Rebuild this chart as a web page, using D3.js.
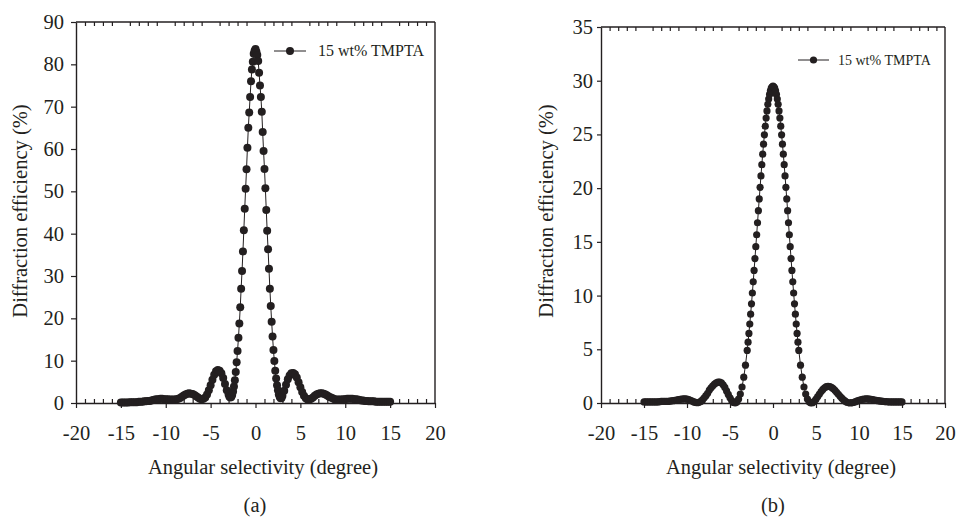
<!DOCTYPE html>
<html>
<head>
<meta charset="utf-8">
<script src="https://cdn.jsdelivr.net/npm/d3@7"></script>
<style>
  html, body { margin: 0; padding: 0; background: #ffffff; }
  svg { display: block; }
  text { font-family: "Liberation Serif", "Times New Roman", serif; fill: #231f20; }
</style>
</head>
<body>
<svg id="chart" width="956" height="517"></svg>
<script>
// ---------------- DATA ----------------
const xTickValues = [-20, -15, -10, -5, 0, 5, 10, 15, 20];
const xMinorValues = [-19,-18,-17,-16,-14,-13,-12,-11,-9,-8,-7,-6,-4,-3,-2,-1,1,2,3,4,6,7,8,9,11,12,13,14,16,17,18,19];
const yTickValuesA = [0, 10, 20, 30, 40, 50, 60, 70, 80, 90];
const yTickValuesB = [0, 5, 10, 15, 20, 25, 30, 35];
const seriesName = "15 wt% TMPTA";
const panelLabels = ["(a)", "(b)"];
const xTitle = "Angular selectivity (degree)";
const yTitle = "Diffraction efficiency (%)";

// angular offsets (degree)
const angles = [
  -15,-14.8,-14.6,-14.4,-14.2,-14,-13.8,-13.6,-13.4,-13.2,-13,-12.8,-12.6,-12.4,-12.2,-12,-11.8,-11.6,-11.4,-11.2,
  -11,-10.8,-10.6,-10.4,-10.2,-10,-9.8,-9.6,-9.4,-9.2,-9,-8.8,-8.6,-8.4,-8.2,-8,-7.8,-7.6,-7.4,-7.2,
  -7,-6.8,-6.6,-6.4,-6.2,-6,-5.8,-5.6,-5.4,-5.2,-5,-4.8,-4.6,-4.4,-4.2,-4,-3.8,-3.6,-3.4,-3.2,
  -3,-2.9,-2.8,-2.7,-2.6,-2.5,-2.4,-2.3,-2.2,-2.1,-2,-1.9,-1.8,-1.7,-1.6,-1.5,-1.4,-1.3,-1.2,-1.1,
  -1,-0.9,-0.8,-0.7,-0.6,-0.5,-0.4,-0.3,-0.2,-0.1,0,0.1,0.2,0.3,0.4,0.5,0.6,0.7,0.8,0.9,
  1,1.1,1.2,1.3,1.4,1.5,1.6,1.7,1.8,1.9,2,2.1,2.2,2.3,2.4,2.5,2.6,2.7,2.8,2.9,3,
  3.2,3.4,3.6,3.8,4,4.2,4.4,4.6,4.8,5,5.2,5.4,5.6,5.8,6,6.2,6.4,6.6,6.8,7,
  7.2,7.4,7.6,7.8,8,8.2,8.4,8.6,8.8,9,9.2,9.4,9.6,9.8,10,10.2,10.4,10.6,10.8,11,
  11.2,11.4,11.6,11.8,12,12.2,12.4,12.6,12.8,13,13.2,13.4,13.6,13.8,14,14.2,14.4,14.6,14.8,15
];

// panel (a) diffraction efficiency (%)
const efficiencyA = [
  0.1,0.1,0.1,0.1,0.1,0.2,0.2,0.2,0.2,0.2,0.3,0.3,0.3,0.4,0.4,0.5,0.5,0.6,0.7,0.8,
  0.9,0.9,1.0,1.0,0.9,0.9,0.9,0.8,0.8,0.8,0.8,0.9,1.0,1.2,1.5,1.8,2.0,2.2,2.3,2.2,
  2.1,1.9,1.6,1.3,1.0,0.9,1.0,1.3,2.0,3.0,4.2,5.5,6.7,7.5,7.8,7.6,7.0,5.9,4.5,3.0,
  2.0,1.5,1.3,1.4,1.9,2.7,3.9,5.4,7.3,9.6,12.3,15.4,18.8,22.6,27.0,31.2,35.8,40.8,45.9,50.6,
  55.2,60.3,65.0,68.6,72.3,76.0,78.8,80.6,82.5,83.2,83.6,83.0,82.2,80.8,78.0,75.0,72.3,68.8,64.0,59.5,
  55.3,50.7,45.6,40.7,36.3,31.7,27.0,22.9,19.2,15.7,12.5,9.9,7.6,5.8,4.2,3.0,2.0,1.4,1.1,1.2,1.7,
  2.9,4.3,5.6,6.5,7.0,7.1,6.8,6.0,4.9,3.7,2.6,1.7,1.1,0.8,0.8,1.0,1.3,1.7,2.0,2.2,
  2.3,2.3,2.2,2.0,1.8,1.5,1.3,1.1,0.9,0.8,0.8,0.8,0.8,0.9,0.9,1.0,1.0,1.0,1.0,0.9,
  0.9,0.8,0.7,0.6,0.6,0.5,0.5,0.4,0.4,0.4,0.4,0.3,0.3,0.3,0.3,0.3,0.3,0.3,0.3,0.3
];

// panel (b) diffraction efficiency (%)
const efficiencyB = [
  0.1,0.1,0.1,0.1,0.1,0.1,0.1,0.1,0.1,0.12,0.15,0.15,0.15,0.15,0.15,0.18,0.2,0.22,0.25,0.28,
  0.31,0.34,0.36,0.38,0.38,0.36,0.32,0.25,0.18,0.1,0.05,0.03,0.06,0.15,0.3,0.48,0.68,0.9,1.2,1.42,
  1.6,1.76,1.87,1.94,1.95,1.88,1.7,1.45,1.12,0.8,0.48,0.22,0.05,0.0,0.1,0.37,0.83,1.49,2.4,3.52,
  4.89,5.66,6.48,7.35,8.27,9.23,10.24,11.28,12.34,13.44,14.55,15.66,16.78,17.9,19.0,20.08,21.14,22.18,23.16,24.09,
  24.96,25.77,26.53,27.19,27.8,28.3,28.72,29.06,29.31,29.44,29.5,29.44,29.31,29.06,28.72,28.3,27.8,27.19,26.53,25.77,
  24.96,24.09,23.16,22.18,21.14,20.08,19.0,17.9,16.78,15.66,14.55,13.44,12.34,11.28,10.24,9.23,8.27,7.35,6.48,5.66,4.89,
  3.52,2.4,1.49,0.83,0.37,0.11,0.0,0.03,0.16,0.36,0.6,0.84,1.07,1.26,1.41,1.52,1.55,1.53,1.46,1.33,
  1.18,1.0,0.81,0.62,0.45,0.3,0.17,0.07,0.02,0.0,0.02,0.06,0.12,0.19,0.25,0.3,0.34,0.37,0.38,0.38,
  0.37,0.35,0.32,0.28,0.25,0.22,0.19,0.17,0.15,0.13,0.12,0.11,0.1,0.1,0.1,0.1,0.1,0.1,0.1,0.1
];

// ---------------- DRAWING ----------------
const svg = d3.select("#chart");
const ink = "#231f20";

const panels = [
  { values: efficiencyA, yTicks: yTickValuesA, yMax: 90, x0: 76, x1: 435, y0: 403, y1: 22,
    r: 4, yPad: 7, yTickLen: 5, label: panelLabels[0], labelX: 255, xTitleX: 263, yTitleX: 27,
    legend: { lx0: 274, lx1: 306, ly: 51, tx: 318, fs: 16 } },
  { values: efficiencyB, yTicks: yTickValuesB, yMax: 35, x0: 601, x1: 945, y0: 403, y1: 27,
    r: 3.6, yPad: 4, yTickLen: 4, label: panelLabels[1], labelX: 773, xTitleX: 781, yTitleX: 553,
    legend: { lx0: 798, lx1: 829, ly: 60, tx: 838, fs: 14 } }
];

panels.forEach(p => {
  const x = d3.scaleLinear().domain([-20, 20]).range([p.x0, p.x1]);
  const y = d3.scaleLinear().domain([0, p.yMax]).range([p.y0, p.y1]);
  const g = svg.append("g");
  const data = angles.map((a, i) => ({ a, v: p.values[i] }));

  // frame: top + right
  g.append("line").attr("x1", p.x0).attr("x2", p.x1).attr("y1", p.y1).attr("y2", p.y1)
    .attr("stroke", ink).attr("stroke-width", 1.4);
  g.append("line").attr("x1", p.x1).attr("x2", p.x1).attr("y1", p.y1).attr("y2", p.y0)
    .attr("stroke", ink).attr("stroke-width", 1.4);

  // top minor ticks (inward)
  const topAxis = g.append("g").attr("transform", `translate(0,${p.y1})`)
    .call(d3.axisTop(x).tickValues(xMinorValues).tickSize(-4).tickSizeOuter(0).tickFormat(""));
  topAxis.select(".domain").remove();

  // bottom minor ticks (inward)
  const botMinor = g.append("g").attr("transform", `translate(0,${p.y0})`)
    .call(d3.axisBottom(x).tickValues(xMinorValues).tickSize(-4).tickSizeOuter(0).tickFormat(""));
  botMinor.select(".domain").remove();

  // bottom major axis
  const botAxis = g.append("g").attr("transform", `translate(0,${p.y0})`)
    .call(d3.axisBottom(x).tickValues(xTickValues).tickSize(5).tickSizeOuter(0).tickPadding(17)
      .tickFormat(d => String(d)));
  botAxis.select(".domain").attr("stroke-width", 1.4);

  // left axis
  const leftAxis = g.append("g").attr("transform", `translate(${p.x0},0)`)
    .call(d3.axisLeft(y).tickValues(p.yTicks).tickSize(p.yTickLen).tickSizeOuter(0).tickPadding(p.yPad)
      .tickFormat(d => String(d)));
  leftAxis.select(".domain").attr("stroke-width", 1.4);

  [topAxis, botMinor, botAxis, leftAxis].forEach(ax => {
    ax.selectAll("line").attr("stroke", ink).attr("stroke-width", 1.2);
    ax.select(".domain").attr("stroke", ink);
    ax.selectAll("text").attr("font-family", "Liberation Serif").attr("font-size", 20.5).attr("fill", ink);
  });

  // series line + markers
  const line = d3.line().x(d => x(d.a)).y(d => y(d.v));
  g.append("path").datum(data).attr("d", line).attr("fill", "none")
    .attr("stroke", ink).attr("stroke-width", 1);
  g.append("g").selectAll("circle").data(data).join("circle")
    .attr("cx", d => x(d.a)).attr("cy", d => y(d.v)).attr("r", p.r).attr("fill", ink);

  // legend
  const L = p.legend;
  g.append("line").attr("x1", L.lx0).attr("x2", L.lx1).attr("y1", L.ly).attr("y2", L.ly)
    .attr("stroke", ink).attr("stroke-width", 1);
  g.append("circle").attr("cx", (L.lx0 + L.lx1) / 2).attr("cy", L.ly).attr("r", p.r).attr("fill", ink);
  g.append("text").attr("x", L.tx).attr("y", L.ly).attr("dy", "0.34em")
    .attr("font-size", L.fs).text(seriesName);

  // axis titles
  g.append("text").attr("x", p.xTitleX).attr("y", 474).attr("text-anchor", "middle")
    .attr("font-size", 20.5).text(xTitle);
  g.append("text").attr("transform", `translate(${p.yTitleX},211) rotate(-90)`)
    .attr("text-anchor", "middle").attr("font-size", 20.5).text(yTitle);

  // panel label
  g.append("text").attr("x", p.labelX).attr("y", 512).attr("text-anchor", "middle")
    .attr("font-size", 20.5).text(p.label);
});
</script>
</body>
</html>
